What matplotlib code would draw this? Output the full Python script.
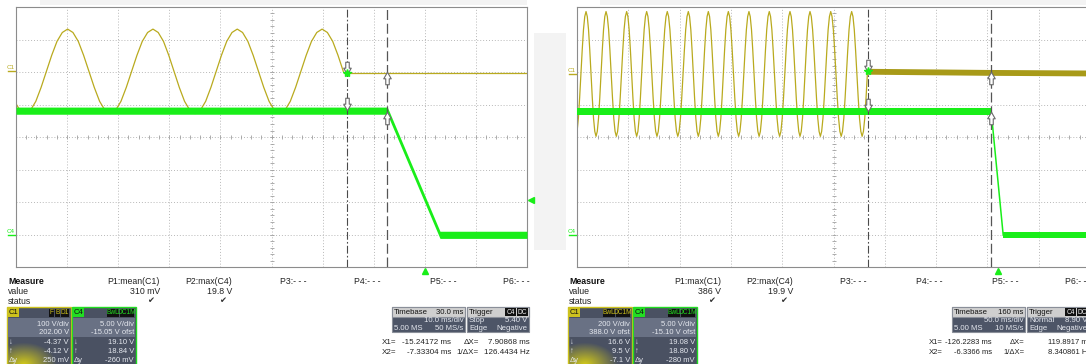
import numpy as np
import matplotlib.pyplot as plt
from matplotlib.patches import Rectangle
from matplotlib.path import Path
from matplotlib.transforms import blended_transform_factory

W, H = 1086, 364
plt.rcParams['font.family'] = ['Liberation Sans', 'DejaVu Sans']

# one mains cycle in 16 steps, starting at the positive peak
cycle_shape = [1.0, 0.92, 0.71, 0.38, 0.0, -0.38, -0.71, -0.92,
               -1.0, -0.92, -0.71, -0.38, 0.0, 0.38, 0.71, 0.92]

# ---- left capture: 10 ms/div ----
left_xlim = (-80, 20)
left_c1_peaks = [-86.5, -69.9, -53.2, -36.7, -20.1]     # ms
left_c1_peak_v = 130.0
left_c1_after_t = [-15.9, 20.0]
left_c1_after_v = [-4.2, -4.2]
left_c4_t = [-80.0, -7.33, 2.97, 20.0]
left_c4_v = [19.1, 19.1, 0.0, 0.0]
left_cursors = [-15.24172, -7.33304]
left_trig_level = 5.40

# ---- right capture: 50 ms/div ----
right_xlim = (-410, 90)
right_c1_peaks = [-421.1, -401.2, -381.7, -361.6, -342.1, -322.0, -301.5, -282.0,
                  -262.5, -242.4, -222.6, -202.4, -182.9, -162.7, -142.3]
right_c1_peak_v = 384.0
right_c1_after_t = [-127.4, -6.34, 90.0]
right_c1_after_v = [16.6, 9.5, 6.0]
right_c4_t = [-410.0, -6.34, 5.4, 90.0]
right_c4_v = [19.08, 19.08, 0.0, 0.0]
right_cursors = [-126.2283, -6.3366]

# vertical scale per channel: (V/div, offset V)
left_c1_scale, left_c4_scale = (100, 202.0), (5, -15.05)
right_c1_scale, right_c4_scale = (200, 388.0), (5, -15.10)

YELLOW = '#b9aa1e'
YELLOW_DARK = '#a89a18'
GREEN = '#19ee19'
TXT = '#e4e7ee'

# outlined cursor arrow, tip pointing down
ARROW_DOWN = Path([(-0.28, 1), (0.28, 1), (0.28, 0.05), (0.6, 0.05), (0, -1),
                   (-0.6, 0.05), (-0.28, 0.05), (-0.28, 1)], closed=True)
ARROW_UP = Path([(x, -y) for x, y in ARROW_DOWN.vertices], closed=True)


def sine_vertices(peaks, peak_v, last_steps):
    ts, vs = [], []
    n = len(cycle_shape)
    for i, p in enumerate(peaks):
        period = peaks[i + 1] - p if i + 1 < len(peaks) else p - peaks[i - 1]
        steps = n if i + 1 < len(peaks) else last_steps + 1
        for k in range(steps):
            ts.append(p + period * k / n)
            vs.append(peak_v * cycle_shape[k % n])
    return ts, vs


def to_div(v, scale):
    return (np.asarray(v, dtype=float) + scale[1]) / scale[0]


fig = plt.figure(figsize=(W / 100, H / 100), dpi=100)
ax_bg = fig.add_axes([0, 0, 1, 1])
ax_bg.axis('off')


def scope(x0, width, xlim):
    ax = fig.add_axes([x0 / W, (H - 267) / H, width / W, 260 / H])
    ax.set_xlim(xlim)
    ax.set_ylim(-4, 4)
    ax.set_xticks([])
    ax.set_yticks([])
    ax.patch.set_alpha(0)
    for s in ax.spines.values():
        s.set_color('#8c8c8c')
        s.set_linewidth(0.8)
    step = (xlim[1] - xlim[0]) / 10
    grid = dict(color='#b8b8b8', lw=0.7, ls=(0, (1, 2)), zorder=0)
    for k in range(1, 10):
        ax.axvline(xlim[0] + k * step, **grid)
    for k in range(-3, 4):
        ax.axhline(k, **grid)
    xc = xlim[0] + 5 * step
    ticks = dict(ls='none', ms=3, mew=0.6, color='#a0a0a0', zorder=0)
    ax.plot([xc] * 41, np.linspace(-4, 4, 41), marker='_', **ticks)
    ax.plot(np.linspace(xlim[0], xlim[1], 51), [0] * 51, marker='|', **ticks)
    return ax


def draw_capture(ax, c1_peaks, c1_peak_v, last_steps, c1_after_t, c1_after_v,
                 c4_t, c4_v, c1_scale, c4_scale, cursors, band_c1, ramp_lw):
    t, v = sine_vertices(c1_peaks, c1_peak_v, last_steps)
    ax.plot(t, to_div(v, c1_scale), color=YELLOW, lw=0.9, zorder=2)
    if band_c1:
        y = to_div(c1_after_v, c1_scale)
        ax.fill_between(c1_after_t, y - 0.09, y + 0.09, color=YELLOW_DARK, lw=0, zorder=2)
    else:
        ax.plot(c1_after_t, to_div(c1_after_v, c1_scale), color=YELLOW, lw=0.9, zorder=2)

    y4 = to_div(c4_v, c4_scale)
    if ramp_lw is None:
        ax.fill_between(c4_t, y4 - 0.11, y4 + 0.11, color=GREEN, lw=0, zorder=3)
    else:
        ax.fill_between(c4_t[:2], y4[:2] - 0.11, y4[:2] + 0.11, color=GREEN, lw=0, zorder=3)
        ax.fill_between(c4_t[2:], y4[2:] - 0.1, y4[2:] + 0.1, color=GREEN, lw=0, zorder=3)
        ax.plot(c4_t[1:3], y4[1:3], color=GREEN, lw=ramp_lw, zorder=3)

    x1, x2 = cursors
    ax.axvline(x1, color='#4a4a4a', lw=0.8, ls=(0, (7, 2, 1.5, 2)), zorder=4)
    ax.axvline(x2, color='#555555', lw=0.9, ls=(0, (8, 3)), zorder=4)

    # cursor markers on both traces
    y1a = to_div(np.interp(x1, c1_after_t, c1_after_v), c1_scale)
    y4a = to_div(np.interp(x1, c4_t, c4_v), c4_scale)
    y1b = to_div(np.interp(x2, c1_after_t, c1_after_v), c1_scale)
    y4b = to_div(np.interp(x2, c4_t, c4_v), c4_scale)
    arrow = dict(ms=9, mfc='white', mec='#6a6a6a', mew=0.8, ls='none', zorder=5)
    ax.plot([x1], [y1a + 0.15], marker=ARROW_DOWN, **arrow)
    ax.plot([x1], [y4a + 0.2], marker=ARROW_DOWN, **arrow)
    ax.plot([x2], [y1b - 0.16], marker=ARROW_UP, **arrow)
    ax.plot([x2], [y4b - 0.22], marker=ARROW_UP, **arrow)
    ax.plot([x1], [y1a], marker='*', ms=6, color=GREEN, mec=GREEN, zorder=6)

    # channel ground markers at the left edge
    tr = blended_transform_factory(ax.transAxes, ax.transData)
    for name, scale, col in (('C1', c1_scale, YELLOW), ('C4', c4_scale, GREEN)):
        y0 = to_div(0.0, scale)
        ax.text(-0.003, y0 + 0.04, name, transform=tr, ha='right', va='bottom',
                fontsize=4.5, color=col, clip_on=False)
        ax.plot([-0.016, -0.002], [y0, y0], transform=tr, color=col, lw=1, clip_on=False)

    # trigger time marker under the grid
    trx = blended_transform_factory(ax.transData, ax.transAxes)
    ax.plot([0], [-0.016], marker='^', ms=4.5, color=GREEN, transform=trx, clip_on=False)


# faint title-bar shading above each grid
ax_bg.add_patch(Rectangle((40, 0), 487, 5, fc='#f3f3f3', ec='none'))
ax_bg.add_patch(Rectangle((600, 0), 486, 5, fc='#f3f3f3', ec='none'))

# ---- left scope ----
axl = scope(16, 511, left_xlim)
draw_capture(axl, left_c1_peaks, left_c1_peak_v, 4, left_c1_after_t, left_c1_after_v,
             left_c4_t, left_c4_v, left_c1_scale, left_c4_scale, left_cursors,
             band_c1=False, ramp_lw=None)
tr_lvl = blended_transform_factory(axl.transAxes, axl.transData)
axl.plot([1.008], [to_div(left_trig_level, left_c4_scale)], marker='<', ms=4,
         color=GREEN, transform=tr_lvl, clip_on=False)

# ---- right scope ----
axr = scope(577, 513, right_xlim)
draw_capture(axr, right_c1_peaks, right_c1_peak_v, 12, right_c1_after_t, right_c1_after_v,
             right_c4_t, right_c4_v, right_c1_scale, right_c4_scale, right_cursors,
             band_c1=True, ramp_lw=1.1)

# gap panel between the two captures
ax_bg.add_patch(Rectangle((534, 33), 32, 217, fc='#f3f3f3', ec='none'))


# ---- measurement rows ----
def measure_rows(dx, labels, values, status_cols, col_right):
    ax_bg.text(8 + dx, 281, 'Measure', fontsize=6.3, weight='bold', va='center', color='#111')
    ax_bg.text(8 + dx, 291, 'value', fontsize=6.3, va='center', color='#222')
    ax_bg.text(8 + dx, 301, 'status', fontsize=6.3, va='center', color='#222')
    for lab, val, xr in zip(labels, values, col_right):
        ax_bg.text(xr + dx, 281, lab, fontsize=6.3, ha='right', va='center', color='#222')
        ax_bg.text(xr + dx, 291, val, fontsize=6.3, ha='right', va='center', color='#222')
    for i in status_cols:
        ax_bg.text(col_right[i] + dx - 6, 301, '\u2714', fontsize=6, ha='right',
                   va='center', color='#333', family='DejaVu Sans')


col_right = [160, 232, 306, 381, 457, 530]
measure_rows(0, ['P1:mean(C1)', 'P2:max(C4)', 'P3:- - -', 'P4:- - -', 'P5:- - -', 'P6:- - -'],
             ['310 mV', '19.8 V', '', '', '', ''], [0, 1], col_right)
measure_rows(561, ['P1:max(C1)', 'P2:max(C4)', 'P3:- - -', 'P4:- - -', 'P5:- - -', 'P6:- -'],
             ['386 V', '19.9 V', '', '', '', ''], [0, 1], col_right[:5] + [1086 - 561])


def tag(x, y, w, h, text, fc, tc, size=4.8):
    ax_bg.add_patch(Rectangle((x, y), w, h, fc=fc, ec='none'))
    ax_bg.text(x + w / 2, y + h / 2 + 0.3, text, color=tc, fontsize=size, ha='center', va='center')


def channel_box(x0, name, color, tags, rows, glow):
    w, top = 64, 307
    ax_bg.add_patch(Rectangle((x0, top), w, 62, fc='#4a5162', ec=color, lw=1))
    ax_bg.add_patch(Rectangle((x0 + 1, top + 11), w - 2, 19, fc='#697184', ec='none'))
    if glow:
        gy, gx = np.mgrid[0:30, 0:64]
        d = np.hypot((gx - 16) / 34.0, (gy - 30) / 22.0)
        img = np.zeros((30, 64, 4))
        img[..., 0], img[..., 1], img[..., 2] = 0.86, 0.82, 0.08
        img[..., 3] = np.clip(1 - d, 0, 1) * 0.95
        ax_bg.imshow(img, extent=(x0 + 1, x0 + w - 1, 364, 334), aspect='auto',
                     interpolation='bilinear', zorder=1)
    tag(x0 + 1, top + 1, 11, 9, name, color, '#111111', size=5.5)
    x = x0 + w - 1
    for t in reversed(tags):
        tw = 3 + 3.1 * len(t)
        x -= tw
        tag(x, top + 1.5, tw - 0.8, 8, t, '#111111', color)
    for y, (lab, val) in zip([324, 332.5, 343, 351.5, 360], rows):
        if lab:
            ax_bg.text(x0 + 2, y, lab, fontsize=5.5, va='center', color=TXT, zorder=2)
        ax_bg.text(x0 + w - 2, y, val, fontsize=5.5, ha='right', va='center', color=TXT, zorder=2)


C1_TAG, C4_TAG = '#cdc21e', '#22dd22'
channel_box(7, 'C1', C1_TAG, ['F', 'B', 'D1'],
            [('', '100 V/div'), ('', '202.00 V'), ('\u2193', '-4.37 V'),
             ('\u2191', '-4.12 V'), ('\u0394y', '250 mV')], True)
channel_box(72, 'C4', C4_TAG, ['BwL', 'DC1M'],
            [('', '5.00 V/div'), ('', '-15.05 V ofst'), ('\u2193', '19.10 V'),
             ('\u2191', '18.84 V'), ('\u0394y', '-260 mV')], False)
channel_box(568, 'C1', C1_TAG, ['BwL', 'DC1M'],
            [('', '200 V/div'), ('', '388.0 V ofst'), ('\u2193', '16.6 V'),
             ('\u2191', '9.5 V'), ('\u0394y', '-7.1 V')], True)
channel_box(633, 'C4', C4_TAG, ['BwL', 'DC1M'],
            [('', '5.00 V/div'), ('', '-15.10 V ofst'), ('\u2193', '19.08 V'),
             ('\u2191', '18.80 V'), ('\u0394y', '-280 mV')], False)


def info_box(x0, w, head, head_right, rows, tags=()):
    ax_bg.add_patch(Rectangle((x0, 307), w, 25, fc='#4d5567', ec='#8a8f99', lw=0.8))
    ax_bg.add_patch(Rectangle((x0, 307), w, 9.5, fc='#cfcfcf', ec='#8a8f99', lw=0.8))
    ax_bg.text(x0 + 2, 312, head, fontsize=5.6, va='center', color='#111')
    if head_right:
        ax_bg.text(x0 + w - 1.5, 312, head_right, fontsize=5.6, ha='right', va='center', color='#111')
    x = x0 + w - 1
    for t in reversed(tags):
        x -= 11.5
        tag(x, 308, 11, 7.5, t, '#111111', '#f0f0f0')
    for y, (lab, val) in zip([321, 328.5], rows):
        ax_bg.text(x0 + 2, y, lab, fontsize=5.6, va='center', color=TXT)
        ax_bg.text(x0 + w - 1.5, y, val, fontsize=5.6, ha='right', va='center', color=TXT)


info_box(392, 73, 'Timebase', '30.0 ms', [('', '10.0 ms/div'), ('5.00 MS', '50 MS/s')])
info_box(467, 62, 'Trigger', '', [('Stop', '5.40 V'), ('Edge', 'Negative')], tags=['C4', 'DC'])
info_box(952, 73, 'Timebase', '160 ms', [('', '50.0 ms/div'), ('5.00 MS', '10 MS/s')])
info_box(1027, 62, 'Trigger', '', [('Normal', '8.90 V'), ('Edge', 'Negative')], tags=['C4', 'DC'])


def cursor_text(cols, rows, size):
    x_lab, x_val, x_dlab, x_dval = cols
    for y, (a, av, b, bv) in zip([343, 353], rows):
        ax_bg.text(x_lab, y, a, fontsize=size, va='center', color='#222')
        ax_bg.text(x_val, y, av, fontsize=size, ha='right', va='center', color='#222')
        ax_bg.text(x_dlab, y, b, fontsize=size, ha='right', va='center', color='#222')
        ax_bg.text(x_dval, y, bv, fontsize=size, ha='right', va='center', color='#222')


cursor_text((382, 451, 479, 530),
            [('X1=', '-15.24172 ms', '\u0394X=', '7.90868 ms'),
             ('X2=', '-7.33304 ms', '1/\u0394X=', '126.4434 Hz')], 5.8)
cursor_text((929, 992, 1025, 1091),
            [('X1=', '-126.2283 ms', '\u0394X=', '119.8917 ms'),
             ('X2=', '-6.3366 ms', '1/\u0394X=', '8.340861 Hz')], 5.5)

ax_bg.set_xlim(0, W)
ax_bg.set_ylim(H, 0)
fig.savefig('out.png', dpi=100)
